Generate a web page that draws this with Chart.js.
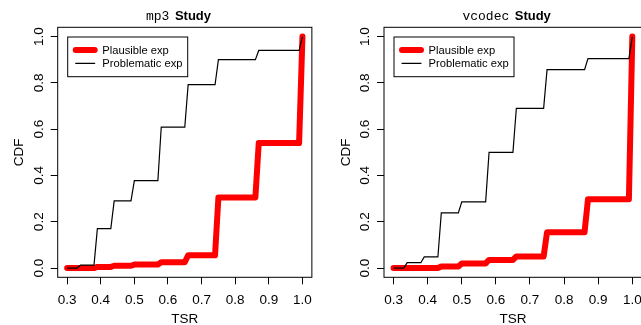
<!DOCTYPE html>
<html>
<head>
<meta charset="utf-8">
<script src="https://cdn.jsdelivr.net/npm/chart.js@4.4.1/dist/chart.umd.min.js"></script>
<style>
  html, body { margin: 0; padding: 0; background: #fff; overflow: hidden; }
  #wrap { position: relative; width: 641px; height: 325px; overflow: hidden; }
  #left { position: absolute; left: 0; top: 0; }
  #right { position: absolute; left: 320px; top: 0; }
</style>
</head>
<body>
<div id="wrap">
  <canvas id="left" width="320" height="325"></canvas>
  <canvas id="right" width="330" height="325"></canvas>
</div>
<script>
// TSR break points shared by all step curves
const tsr = [0.30, 0.33, 0.34, 0.38, 0.39, 0.43, 0.44, 0.49, 0.50, 0.57, 0.58, 0.65, 0.66, 0.74, 0.75, 0.86, 0.87, 0.99, 1.00];

const mp3Plausible   = [0, 0, 0, 0, 0.005, 0.005, 0.01, 0.01, 0.015, 0.015, 0.025, 0.025, 0.055, 0.055, 0.305, 0.305, 0.54, 0.54, 1.0];
const mp3Problematic = [0, 0, 0.013, 0.013, 0.17, 0.17, 0.29, 0.29, 0.378, 0.378, 0.609, 0.609, 0.792, 0.792, 0.90, 0.90, 0.94, 0.94, 1.0];

const vcodecPlausible   = [0, 0, 0, 0, 0, 0, 0.007, 0.007, 0.02, 0.02, 0.035, 0.035, 0.05, 0.05, 0.155, 0.155, 0.297, 0.297, 1.0];
const vcodecProblematic = [0, 0, 0.023, 0.023, 0.048, 0.048, 0.238, 0.238, 0.286, 0.286, 0.50, 0.50, 0.69, 0.69, 0.857, 0.857, 0.905, 0.905, 1.0];

const xTicks = [0.3, 0.4, 0.5, 0.6, 0.7, 0.8, 0.9, 1.0];
const yTicks = [0, 0.2, 0.4, 0.6, 0.8, 1.0];
const seriesNames = ['Plausible exp', 'Problematic exp'];

const SANS = '"Liberation Sans", Arial, sans-serif';
const MONO = '"Liberation Mono", "Courier New", monospace';

function toPoints(xs, ys) {
  return xs.map((x, i) => ({ x: x, y: ys[i] }));
}

// box, title, rotated y labels, axis titles and legend, R style
const panelDecor = {
  id: 'panelDecor',
  afterDraw(chart, args, opts) {
    const ctx = chart.ctx;
    const a = chart.chartArea;
    const yScale = chart.scales.y;
    const cx = (a.left + a.right) / 2;
    const cy = (a.top + a.bottom) / 2;
    ctx.save();
    ctx.strokeStyle = '#000';
    ctx.lineWidth = 1;
    ctx.strokeRect(a.left, a.top, a.right - a.left, a.bottom - a.top);

    ctx.fillStyle = '#000';
    // title: mono name + bold "Study"
    ctx.textBaseline = 'alphabetic';
    ctx.textAlign = 'left';
    const gap = 5.5;
    ctx.font = '13px ' + MONO;
    const w1 = ctx.measureText(opts.name).width;
    ctx.font = 'bold 13px ' + SANS;
    const w2 = ctx.measureText('Study').width;
    const tx = cx - 6.3 - (w1 + gap + w2) / 2;
    ctx.font = '13px ' + MONO;
    ctx.fillText(opts.name, tx, 19.5);
    ctx.font = 'bold 13px ' + SANS;
    ctx.fillText('Study', tx + w1 + gap, 19.5);

    // y tick labels, rotated
    ctx.font = '13.5px ' + SANS;
    ctx.textAlign = 'center';
    yTicks.forEach(v => {
      ctx.save();
      ctx.translate(a.left - 15.2, yScale.getPixelForValue(v));
      ctx.rotate(-Math.PI / 2);
      ctx.fillText(v.toFixed(1), 0, 0);
      ctx.restore();
    });

    // axis titles
    ctx.save();
    ctx.translate(a.left - 34.4, cy);
    ctx.rotate(-Math.PI / 2);
    ctx.fillText('CDF', 0, 0);
    ctx.restore();
    ctx.fillText('TSR', cx, 323);

    // legend
    const lx = a.left + 10, ly = 37, lw = 120, lh = 39.7;
    ctx.fillStyle = '#fff';
    ctx.fillRect(lx, ly, lw, lh);
    ctx.strokeStyle = '#000';
    ctx.lineWidth = 1;
    ctx.strokeRect(lx, ly, lw, lh);
    ctx.font = '11.2px ' + SANS;
    ctx.textAlign = 'left';
    chart.data.datasets.forEach((ds, i) => {
      const yy = ly + 13 + i * 13.3;
      ctx.beginPath();
      ctx.strokeStyle = ds.borderColor;
      ctx.lineWidth = ds.borderWidth;
      ctx.lineCap = 'round';
      ctx.moveTo(lx + 8, yy);
      ctx.lineTo(lx + 27, yy);
      ctx.stroke();
      ctx.fillStyle = '#000';
      ctx.fillText(ds.label, lx + 34.6, yy + 4);
    });
    ctx.restore();
  }
};

function makePanel(canvasId, name, plausible, problematic, axisWidth, padRight) {
  return new Chart(document.getElementById(canvasId), {
    type: 'scatter',
    data: {
      datasets: [
        {
          label: seriesNames[0],
          data: toPoints(tsr, plausible),
          showLine: true,
          borderColor: '#ff0000',
          backgroundColor: '#ff0000',
          borderWidth: 6,
          borderCapStyle: 'round',
          borderJoinStyle: 'round',
          pointRadius: 0,
          order: 1
        },
        {
          label: seriesNames[1],
          data: toPoints(tsr, problematic),
          showLine: true,
          borderColor: '#000000',
          backgroundColor: '#000000',
          borderWidth: 1.2,
          pointRadius: 0,
          order: 0
        }
      ]
    },
    options: {
      responsive: false,
      animation: false,
      layout: { padding: { top: 27.3, right: padRight, bottom: 0, left: 0 } },
      plugins: {
        legend: { display: false },
        tooltip: { enabled: false },
        panelDecor: { name: name }
      },
      scales: {
        x: {
          type: 'linear',
          min: 0.272,
          max: 1.028,
          afterBuildTicks: axis => { axis.ticks = xTicks.map(v => ({ value: v })); },
          afterFit: axis => { axis.height = 47.7; },
          grid: { drawOnChartArea: false, drawTicks: true, tickLength: 7, color: '#000' },
          border: { display: false },
          ticks: {
            color: '#000',
            padding: 8,
            maxRotation: 0,
            font: { family: SANS, size: 13.5 },
            callback: v => v.toFixed(1)
          }
        },
        y: {
          type: 'linear',
          min: -0.04,
          max: 1.04,
          afterBuildTicks: axis => { axis.ticks = yTicks.map(v => ({ value: v })); },
          afterFit: axis => { axis.width = axisWidth; },
          grid: { drawOnChartArea: false, drawTicks: true, tickLength: 7, color: '#000' },
          border: { display: false },
          ticks: { display: false }
        }
      }
    },
    plugins: [panelDecor]
  });
}

makePanel('left', 'mp3', mp3Plausible, mp3Problematic, 57.7, 4.3);
makePanel('right', 'vcodec', vcodecPlausible, vcodecProblematic, 64, 8);
</script>
</body>
</html>
